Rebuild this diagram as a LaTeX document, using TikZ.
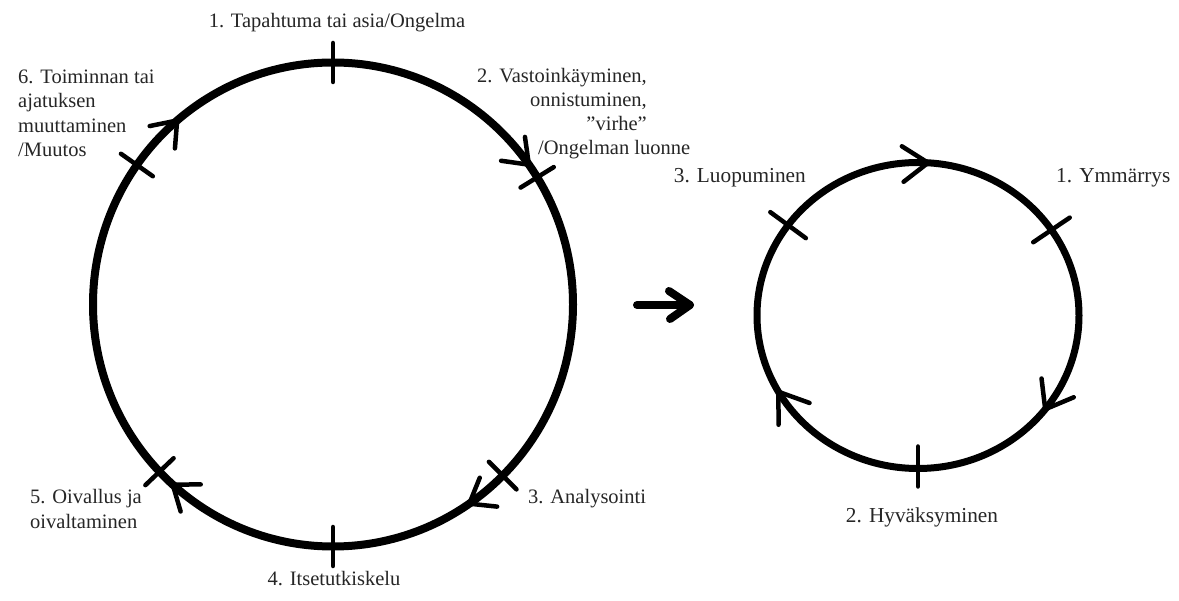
\documentclass[tikz,border=0pt]{standalone}
\usepackage{fontspec}
\setmainfont{Liberation Serif}
\usetikzlibrary{calc}
\newcommand\mytick[5]{% center, angle, inner rx, inner ry, outer rx/ry delta
  \draw[tickmark] ($(#1)+(#2:#3 and #4)$) -- ($(#1)+(#2:#3+#5 and #4+#5)$);}
\newcommand\myhead[7]{% center, angle, rx, ry, axis, spread, length
  \draw[barb] ($(#1)+(#2:#3 and #4)+(#5+#6:#7)$) -- ($(#1)+(#2:#3 and #4)$) -- ($(#1)+(#2:#3 and #4)+(#5-#6:#7)$);}
\begin{document}
\begin{tikzpicture}[x=1pt,y=1pt,
  ring/.style={line width=8pt},
  sring/.style={line width=7pt},
  tickmark/.style={line width=4.5pt,line cap=round},
  barb/.style={line width=4.5pt,line cap=round,line join=round},
  biglbl/.style={font=\fontsize{20.5}{24.5}\selectfont, inner sep=0pt, text=black!85},
  smalllbl/.style={font=\fontsize{21.3}{25}\selectfont, inner sep=0pt, text=black!85}]
\useasboundingbox[fill=white] (0,0) rectangle (1179,-601);
% big cycle
\coordinate (C) at (333,-304.5);
\draw[ring] (C) ellipse [x radius=240, y radius=242];
\mytick{C}{90}{220.5}{222.5}{39}
\mytick{C}{31.7}{220.5}{222.5}{39}
\mytick{C}{-45}{220.5}{222.5}{39}
\mytick{C}{-90}{220.5}{222.5}{39}
\mytick{C}{223.7}{220.5}{222.5}{39}
\mytick{C}{144.8}{220.5}{222.5}{39}
\myhead{C}{130.5}{240}{242}{228.5}{37}{28}
\myhead{C}{35.3}{240}{242}{135}{37}{28}
\myhead{C}{-55.4}{240}{242}{31}{37}{28}
\myhead{C}{228.1}{240}{242}{-36.6}{37}{28}
% labels of big cycle
\node[biglbl, anchor=base] (l1) at (337,-28) {1. Tapahtuma tai asia/Ongelma};
\node[biglbl, anchor=base east] (l2a) at (647,-83) {2. Vastoinkäyminen,};
\node[biglbl, anchor=base east] (l2b) at (647,-107) {onnistuminen,};
\node[biglbl, anchor=base east] (l2c) at (647,-131) {”virhe”};
\node[biglbl, anchor=base west] (l2d) at (538,-155) {/Ongelman luonne};
\node[biglbl, anchor=base west] (l3) at (528,-504) {3. Analysointi};
\node[biglbl, anchor=base] (l4) at (334,-585) {4. Itsetutkiskelu};
\node[biglbl, anchor=base west] (l5a) at (30,-504) {5. Oivallus ja};
\node[biglbl, anchor=base west] (l5b) at (30,-529) {oivaltaminen};
\node[biglbl, anchor=base west] (l6a) at (18,-84) {6. Toiminnan tai};
\node[biglbl, anchor=base west] (l6b) at (18,-108) {ajatuksen};
\node[biglbl, anchor=base west] (l6c) at (18,-133) {muuttaminen};
\node[biglbl, anchor=base west] (l6d) at (18,-157) {/Muutos};
% middle arrow
\coordinate (m1) at (637,-305);
\coordinate (m2) at (690,-305);
\coordinate (m3) at (669,-291);
\coordinate (m4) at (670,-319);
\draw[line width=8pt, line cap=round] (m1) -- (m2);
\draw[line width=8pt, line cap=round, line join=round] (m3) -- (m2) -- (m4);
% small cycle
\coordinate (S) at (918,-315.5);
\draw[sring] (S) ellipse [x radius=161, y radius=153];
\mytick{S}{143.8}{139}{131}{44}
\mytick{S}{34}{139}{131}{44}
\mytick{S}{-90}{139}{131}{40}
\myhead{S}{86.4}{161}{153}{182.8}{35}{31}
\myhead{S}{-37.8}{161}{153}{59.8}{37}{31}
\myhead{S}{209.9}{161}{153}{305.2}{35}{33}
\node[smalllbl, anchor=base west] (s1) at (1056,-183) {1. Ymmärrys};
\node[smalllbl, anchor=base east] (s3) at (806,-183) {3. Luopuminen};
\node[smalllbl, anchor=base] (s2) at (922,-522) {2. Hyväksyminen};
\end{tikzpicture}
\end{document}
